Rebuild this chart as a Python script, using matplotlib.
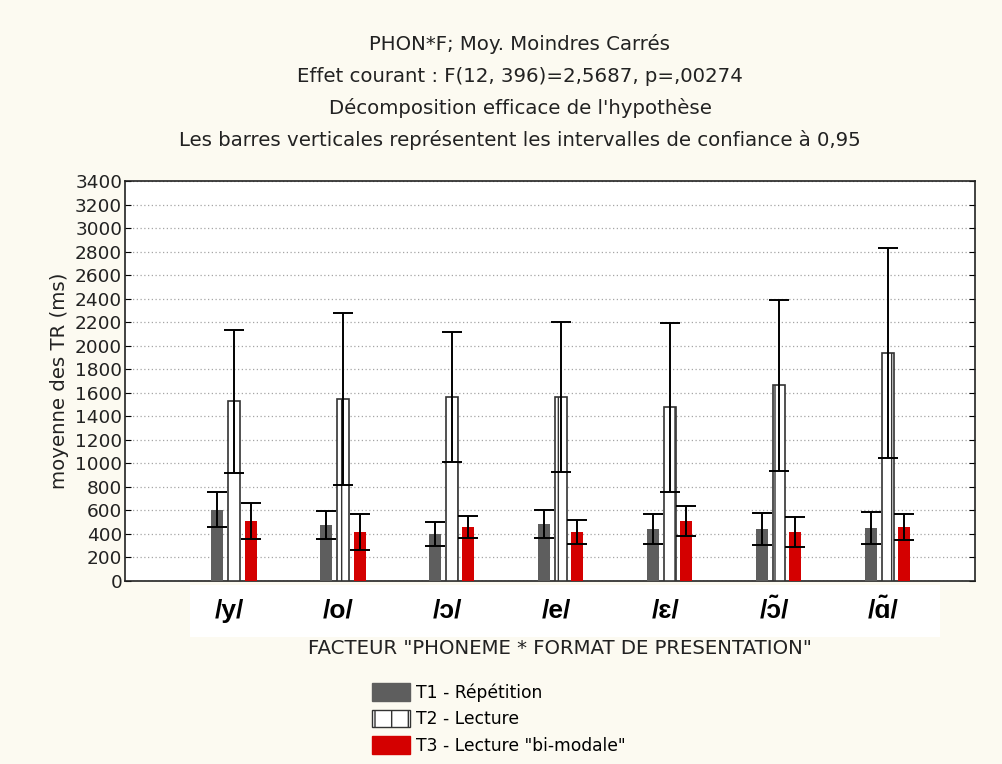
import numpy as np
import matplotlib
matplotlib.use('Agg')
import matplotlib.pyplot as plt
from matplotlib.patches import Patch, Rectangle

plt.rcParams['font.family'] = ['DejaVu Sans']

# Moyennes des TR (ms) et demi-intervalles de confiance a 0,95
phonemes = ['/y/', '/o/', '/ɔ/', '/e/', '/ɛ/', '/ɔ̃/', '/ɑ̃/']
t1_mean = [605, 476, 400, 485, 442, 442, 450]
t1_ci = [150, 120, 102, 118, 126, 136, 137]
t2_mean = [1527, 1545, 1564, 1564, 1476, 1662, 1938]
t2_ci = [608, 732, 550, 640, 718, 726, 890]
t3_mean = [510, 417, 459, 417, 510, 417, 459]
t3_ci = [153, 153, 94, 101, 128, 127, 111]
yticks = np.arange(0, 3401, 200)

bg = '#fcfaf1'
txt = '#222222'
fs = 14.2
fig = plt.figure(figsize=(10.03, 7.64), dpi=100, facecolor=bg)
ax = fig.add_axes([125/1003, 1 - 581/764, 850/1003, 400/764])
ax.set_facecolor('white')

x = np.arange(len(phonemes))
w = 0.11
off = 0.152
ekw = dict(ecolor='black', elinewidth=1.4, capsize=7, capthick=1.4, fmt='none', zorder=4)

ax.bar(x - off, t1_mean, w, color='#5e5e5e', zorder=3)
ax.errorbar(x - off, t1_mean, yerr=t1_ci, **ekw)
ax.bar(x, t2_mean, w, color='white', edgecolor='#333333', linewidth=1.2, hatch='|', zorder=3)
ax.errorbar(x, t2_mean, yerr=t2_ci, **ekw)
ax.bar(x + off, t3_mean, w, color='#d40000', zorder=3)
ax.errorbar(x + off, t3_mean, yerr=t3_ci, **ekw)

ax.set_xlim(-1.0, 6.8)
ax.set_ylim(0, 3400)
ax.set_yticks(yticks)
ax.set_yticklabels([str(v) for v in yticks], fontsize=13.3, color=txt)
ax.tick_params(axis='y', direction='in', length=4, right=True, pad=2)
ax.set_xticks([])
ax.grid(axis='y', color='#a5a5a5', linestyle=(0, (1, 2)), linewidth=0.9, zorder=0)
for s in ax.spines.values():
    s.set_linewidth(1.2)
    s.set_color(txt)
ax.set_ylabel('moyenne des TR (ms)', fontsize=fs, color=txt, labelpad=4)

# titres
titles = ['PHON*F; Moy. Moindres Carrés',
          'Effet courant : F(12, 396)=2,5687, p=,00274',
          "Décomposition efficace de l'hypothèse",
          'Les barres verticales représentent les intervalles de confiance à 0,95']
for i, t in enumerate(titles):
    fig.text(520/1003, 1 - (44 + i*32)/764, t, ha='center', va='center', fontsize=fs, color=txt)

# bandeau blanc des phonemes
fig.patches.append(Rectangle((190/1003, 1 - 637/764), 750/1003, 52/764,
                             transform=fig.transFigure, facecolor='white', edgecolor='none', zorder=-1))
for xi, p in zip(x, phonemes):
    ax.text(xi - 0.04, -0.075, p, transform=ax.get_xaxis_transform(), ha='center', va='center',
            fontsize=19, fontweight='bold', color='black', clip_on=False,
            family=['Liberation Sans', 'DejaVu Sans'])

fig.text(560/1003, 1 - 648/764, 'FACTEUR "PHONEME * FORMAT DE PRESENTATION"',
         ha='center', va='center', fontsize=fs, color=txt)

handles = [Patch(facecolor='#5e5e5e', edgecolor='#5e5e5e', label='T1 - Répétition'),
           Patch(facecolor='white', edgecolor='#333333', hatch='|', label='T2 - Lecture'),
           Patch(facecolor='#d40000', edgecolor='#d40000', label='T3 - Lecture "bi-modale"')]
fig.legend(handles=handles, loc='upper left', bbox_to_anchor=(372/1003, 1 - 683/764),
           frameon=False, fontsize=12.3, handlelength=2.25, handleheight=1.2,
           handletextpad=0.3, labelspacing=0.48, borderpad=0, borderaxespad=0)

fig.savefig('out.png', dpi=100, facecolor=bg)
